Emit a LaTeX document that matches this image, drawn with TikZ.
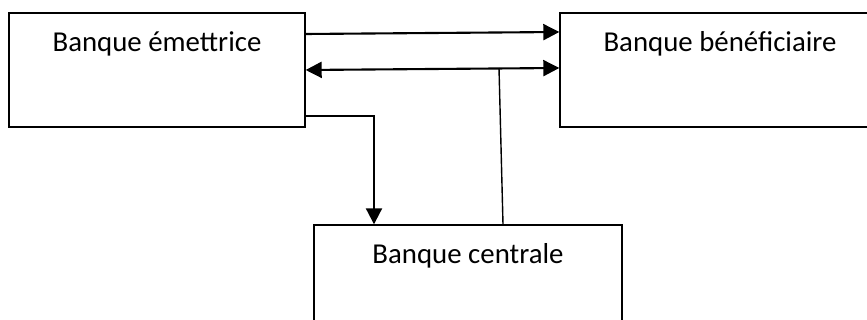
\documentclass[tikz,border=0pt]{standalone}
\usepackage{fontspec}
\setmainfont{Carlito}
\usepackage{tikz}
\usetikzlibrary{arrows.meta}

\begin{document}
\begin{tikzpicture}[
  bank/.style={draw=black, line width=1pt, fill=white, inner xsep=0pt, inner ysep=0pt, text height=0.975cm, text depth=1.875cm, minimum height=2.85cm, font=\fontsize{20.5}{24}\selectfont},
  flow/.style={line width=1.5pt, -{Triangle[length=0.4cm, width=0.4cm]}},
  both/.style={line width=1.5pt, {Triangle[length=0.4cm, width=0.4cm]}-{Triangle[length=0.4cm, width=0.4cm]}},
  link/.style={line width=1pt}
]
\clip (0,0) rectangle (21.675,8);
\node[bank, minimum width=7.4cm] (emettrice) at (3.925,6.25) {Banque émettrice};
\node[bank, minimum width=8.0cm] (beneficiaire) at (18.0,6.25) {Banque bénéficiaire};
\node[bank, minimum width=7.7cm] (centrale) at (11.7,0.95) {Banque centrale};
\coordinate (tap) at (12.475,6.3);
\draw[flow] ([yshift=0.9cm]emettrice.east) -- ([yshift=0.95cm]beneficiaire.west);
\draw[both] (emettrice.east) -- ([yshift=0.05cm]beneficiaire.west);
\draw[flow] ([yshift=-1.15cm]emettrice.east) -| ([xshift=-2.35cm]centrale.north);
\draw[link] (tap) -- ([xshift=0.875cm]centrale.north);
\end{tikzpicture}
\end{document}
